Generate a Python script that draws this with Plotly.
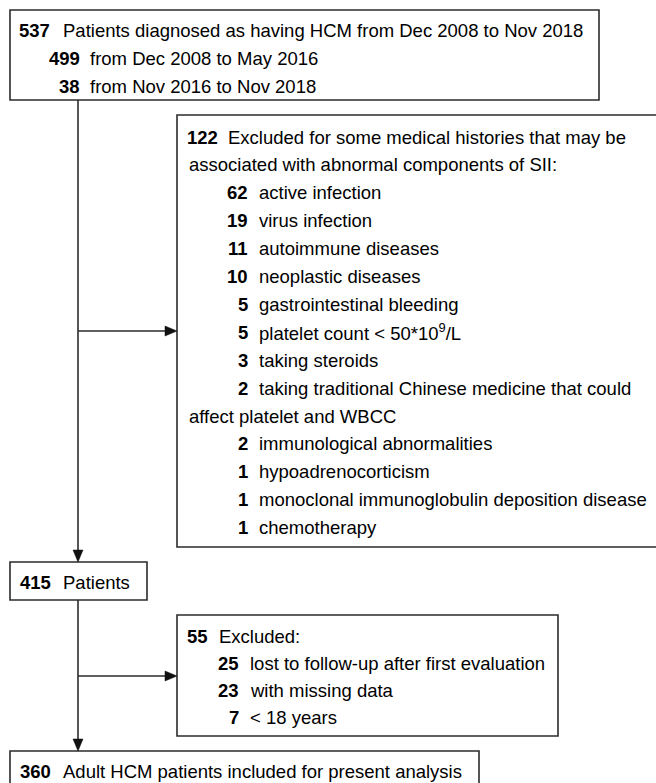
import plotly.graph_objects as go

# ---------------- data ----------------
screened_n = 537
screened_label = "Patients diagnosed as having HCM from Dec 2008 to Nov 2018"
period_counts = [499, 38]
period_labels = ["from Dec 2008 to May 2016", "from Nov 2016 to Nov 2018"]

excl1_n = 122
excl1_header = ["Excluded for some medical histories that may be",
                "associated with abnormal components of SII:"]
excl1_counts = [62, 19, 11, 10, 5, 5, 3, 2, 2, 1, 1, 1]
excl1_labels = ["active infection",
                "virus infection",
                "autoimmune diseases",
                "neoplastic diseases",
                "gastrointestinal bleeding",
                "platelet count < 50*10<sup>9</sup>/L",
                "taking steroids",
                "taking traditional Chinese medicine that could|affect platelet and WBCC",
                "immunological abnormalities",
                "hypoadrenocorticism",
                "monoclonal immunoglobulin deposition disease",
                "chemotherapy"]

mid_n = 415
mid_label = "Patients"

excl2_n = 55
excl2_header = ["Excluded:"]
excl2_counts = [25, 23, 7]
excl2_labels = ["lost to follow-up after first evaluation",
                "with missing data",
                "< 18 years"]

final_n = 360
final_label = "Adult HCM patients included for present analysis"

# ---------------- layout / style ----------------
W, H = 656, 783
FONT = "Liberation Sans, Arial, sans-serif"
FS = 18.5
LINE_C = "#2b2b2b"
LW = 1.6
SPINE_X = 78
HEAD_L, HEAD_HW = 12, 5

fig = go.Figure()
shapes = []
annotations = []


def box(x0, y0, x1, y1):
    shapes.append(dict(type="rect", x0=x0, y0=y0, x1=x1, y1=y1, xref="x", yref="y",
                       line=dict(color=LINE_C, width=LW), fillcolor="white", layer="below"))


def txt(x, y, s, anchor, bold=False):
    annotations.append(dict(x=x, y=y, xref="x", yref="y", text=(f"<b>{s}</b>" if bold else s),
                            showarrow=False, xanchor=anchor, yanchor="middle",
                            font=dict(family=FONT, size=FS, color="black"), borderpad=0))


def arrow(x0, y0, x1, y1):
    if x0 == x1:
        d = 1 if y1 > y0 else -1
        bx, by = x1, y1 - d * HEAD_L
        tri = f"M {x1},{y1} L {bx - HEAD_HW},{by} L {bx + HEAD_HW},{by} Z"
    else:
        d = 1 if x1 > x0 else -1
        bx, by = x1 - d * HEAD_L, y1
        tri = f"M {x1},{y1} L {bx},{by - HEAD_HW} L {bx},{by + HEAD_HW} Z"
    shapes.append(dict(type="line", x0=x0, y0=y0, x1=bx, y1=by, xref="x", yref="y",
                       line=dict(color=LINE_C, width=LW)))
    shapes.append(dict(type="path", path=tri, xref="x", yref="y",
                       fillcolor="#111111", line=dict(color="#111111", width=0.5)))


def block(bx, header_n, header_lines, counts, labels, y_start, step,
          hdr_num_r, hdr_lab, item_num_r, item_lab, wrap_x):
    x0, y0, x1, y1 = bx
    box(x0, y0, x1, y1)
    y = y_start
    txt(hdr_num_r, y, str(header_n), "right", bold=True)
    txt(hdr_lab, y, header_lines[0], "left")
    for extra in header_lines[1:]:
        y += step
        txt(wrap_x, y, extra, "left")
    for c, lab in zip(counts, labels):
        y += step
        parts = lab.split("|")
        txt(item_num_r, y, str(c), "right", bold=True)
        txt(item_lab, y, parts[0], "left")
        for p in parts[1:]:
            y += step
            txt(wrap_x, y, p, "left")


# Box 1
block((10, 10, 599, 100), screened_n, [screened_label], period_counts, period_labels,
      30, 28, 51, 62, 81, 89, 20)
# Box 2
block((177, 115, 662, 547), excl1_n, excl1_header, excl1_counts, excl1_labels,
      137, 27.9, 219, 227, 249, 258, 188)
# Box 3
block((10, 562, 147, 600), mid_n, [mid_label], [], [], 582, 28, 52, 62, 52, 62, 20)
# Box 4
block((177, 615, 558, 736), excl2_n, excl2_header, excl2_counts, excl2_labels,
      636, 27, 209, 218, 240, 249, 188)
# Box 5
block((10, 751, 479, 800), final_n, [final_label], [], [], 771, 28, 52, 62, 52, 62, 20)

# connectors
arrow(SPINE_X, 100, SPINE_X, 562)
arrow(SPINE_X, 331, 177, 331)
arrow(SPINE_X, 600, SPINE_X, 751)
arrow(SPINE_X, 676, 177, 676)

fig.update_layout(
    width=W, height=H,
    margin=dict(l=0, r=0, t=0, b=0),
    paper_bgcolor="white", plot_bgcolor="white",
    xaxis=dict(range=[0, W], visible=False, fixedrange=True),
    yaxis=dict(range=[H, 0], visible=False, fixedrange=True),
    shapes=shapes, annotations=annotations, showlegend=False,
)

fig.write_html("out.html", config={"displayModeBar": False},
               post_script="document.body.style.margin='0';document.body.style.overflow='hidden';")
